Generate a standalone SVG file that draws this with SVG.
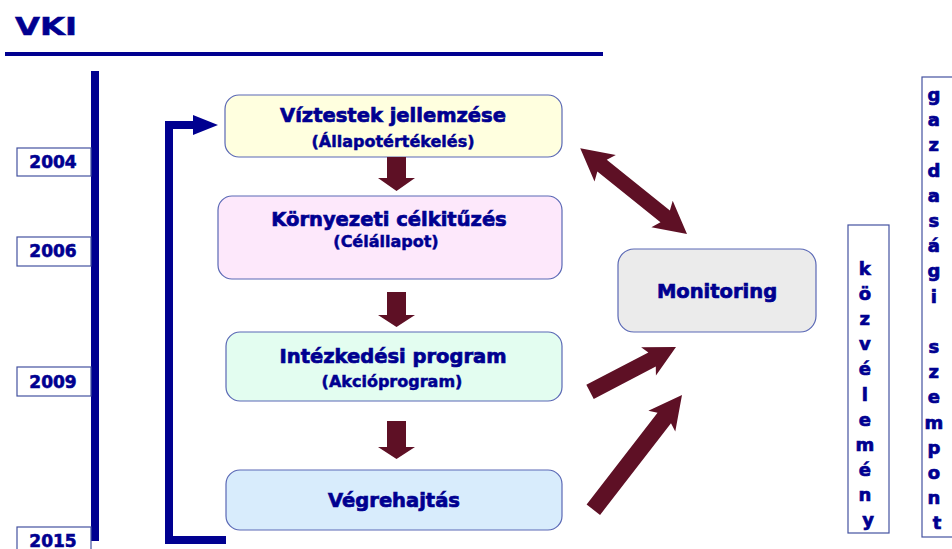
<svg xmlns="http://www.w3.org/2000/svg" width="952" height="549" viewBox="0 0 952 549">
<style>
  text { font-family: "DejaVu Sans", "Liberation Sans", sans-serif; font-weight: bold; fill: #000090; stroke: #000090; stroke-width: 0.5; }
  .box { stroke: #5A68B5; stroke-width: 1.2; }
  .year { fill: #ffffff; stroke: #4452A0; stroke-width: 1.2; }
  .vbox { fill: #ffffff; stroke: #4452A0; stroke-width: 1.2; }
  .title { font-size: 19.5px; text-anchor: middle; stroke-width: 0.7; }
  .sub { font-size: 16px; text-anchor: middle; }
  .yr { font-size: 17px; text-anchor: middle; stroke-width: 0.6; }
  .vl { font-size: 18px; text-anchor: middle; stroke-width: 0.7; }
  .navy { stroke: #000090; fill: none; }
  .arrow { fill: #5E1025; }
</style>

<!-- header -->
<g id="header">
  <text x="15" y="35" font-size="24" stroke-width="1.4" textLength="62" lengthAdjust="spacingAndGlyphs">VKI</text>
  <line x1="5" y1="54" x2="603" y2="54" stroke="#000090" stroke-width="4"/>
</g>

<!-- timeline -->
<g id="timeline">
  <line x1="95" y1="71" x2="95" y2="541" stroke="#000090" stroke-width="8"/>
</g>
<g id="year-2004">
  <rect class="year" x="17" y="148" width="74" height="28"/>
  <text class="yr" x="53" y="168">2004</text>
</g>
<g id="year-2006">
  <rect class="year" x="17" y="237" width="74" height="29"/>
  <text class="yr" x="53" y="257">2006</text>
</g>
<g id="year-2009">
  <rect class="year" x="17" y="367" width="74" height="29"/>
  <text class="yr" x="53" y="388">2009</text>
</g>
<g id="year-2015">
  <rect class="year" x="17" y="527" width="74" height="30"/>
  <text class="yr" x="53" y="547">2015</text>
</g>

<!-- process boxes -->
<g id="node-viztestek">
  <rect class="box" x="225" y="95" width="337" height="62" rx="14" fill="#FFFFDF"/>
  <text class="title" x="393" y="122">Víztestek jellemzése</text>
  <text class="sub" x="393" y="147" font-size="16.5">(Állapotértékelés)</text>
</g>
<g id="node-kornyezeti">
  <rect class="box" x="218" y="196" width="344" height="83" rx="14" fill="#FDE8FB"/>
  <text class="title" x="389" y="226">Környezeti célkitűzés</text>
  <text class="sub" x="386" y="247" font-size="16.5">(Célállapot)</text>
</g>
<g id="node-intezkedesi">
  <rect class="box" x="226" y="332" width="336" height="69" rx="14" fill="#E3FDF0"/>
  <text class="title" x="393" y="363">Intézkedési program</text>
  <text class="sub" x="392" y="387">(Akcióprogram)</text>
</g>
<g id="node-vegrehajtas">
  <rect class="box" x="226" y="470" width="336" height="60" rx="14" fill="#D8ECFC"/>
  <text class="title" x="394" y="507">Végrehajtás</text>
</g>
<g id="node-monitoring">
  <rect class="box" x="618" y="249" width="198" height="83" rx="16" fill="#EBEBEB"/>
  <text class="title" x="717" y="298">Monitoring</text>
</g>

<!-- vertical labels -->
<g id="node-kozvelemeny">
  <rect class="vbox" x="848" y="225" width="41" height="308"/>
  <text class="vl">
    <tspan x="868" y="275">k</tspan>
    <tspan x="868" dy="25.1">ö</tspan>
    <tspan x="868" dy="25.1">z</tspan>
    <tspan x="868" dy="25.1">v</tspan>
    <tspan x="868" dy="25.1">é</tspan>
    <tspan x="868" dy="25.1">l</tspan>
    <tspan x="868" dy="25.1">e</tspan>
    <tspan x="868" dy="25.1">m</tspan>
    <tspan x="868" dy="25.1">é</tspan>
    <tspan x="868" dy="25.1">n</tspan>
    <tspan x="868" dy="25.1">y</tspan>
  </text>
</g>
<g id="node-gazdasagi">
  <rect class="vbox" x="922" y="77" width="40" height="460"/>
  <text class="vl">
    <tspan x="937" y="101">g</tspan>
    <tspan x="937" dy="25.2">a</tspan>
    <tspan x="937" dy="25.2">z</tspan>
    <tspan x="937" dy="25.2">d</tspan>
    <tspan x="937" dy="25.2">a</tspan>
    <tspan x="937" dy="25.2">s</tspan>
    <tspan x="937" dy="25.2">á</tspan>
    <tspan x="937" dy="25.2">g</tspan>
    <tspan x="937" dy="25.2">i</tspan>
    <tspan x="937" dy="50.4">s</tspan>
    <tspan x="937" dy="25.2">z</tspan>
    <tspan x="937" dy="25.2">e</tspan>
    <tspan x="937" dy="25.2">m</tspan>
    <tspan x="937" dy="25.2">p</tspan>
    <tspan x="937" dy="25.2">o</tspan>
    <tspan x="937" dy="25.2">n</tspan>
    <tspan x="937" dy="25.2">t</tspan>
  </text>
</g>

<!-- connectors -->
<g id="connectors">
  <!-- feedback loop -->
  <polyline class="navy" points="226,540 169,540 169,125 196,125" stroke-width="8"/>
  <polygon points="193,115 218,125 193,135" fill="#000090"/>

  <!-- down arrows -->
  <polygon class="arrow" points="387,157 406,157 406,178 415,178 396.5,191 378,178 387,178"/>
  <polygon class="arrow" points="387,292 406,292 406,315 415,315 396.5,327 378,315 387,315"/>
  <polygon class="arrow" points="387,421 406,421 406,447 415,447 396.5,459 378,447 387,447"/>

  <!-- double arrow to monitoring -->
  <polygon class="arrow" transform="translate(687,234) rotate(38.8)" points="0,0 -32,-17 -28,-7.5 -109,-7.5 -105,-17 -137,0 -105,17 -109,7.5 -28,7.5 -32,17"/>
  <!-- from Intézkedési -->
  <polygon class="arrow" transform="translate(676,347) rotate(-27.6)" points="0,0 -31,-16 -27,-8 -97,-8 -97,8 -27,8 -31,16"/>
  <!-- from Végrehajtás -->
  <polygon class="arrow" transform="translate(682,395) rotate(-52.3)" points="0,0 -33,-17 -29,-8.5 -145,-8.5 -145,8.5 -29,8.5 -33,17"/>
</g>
</svg>
